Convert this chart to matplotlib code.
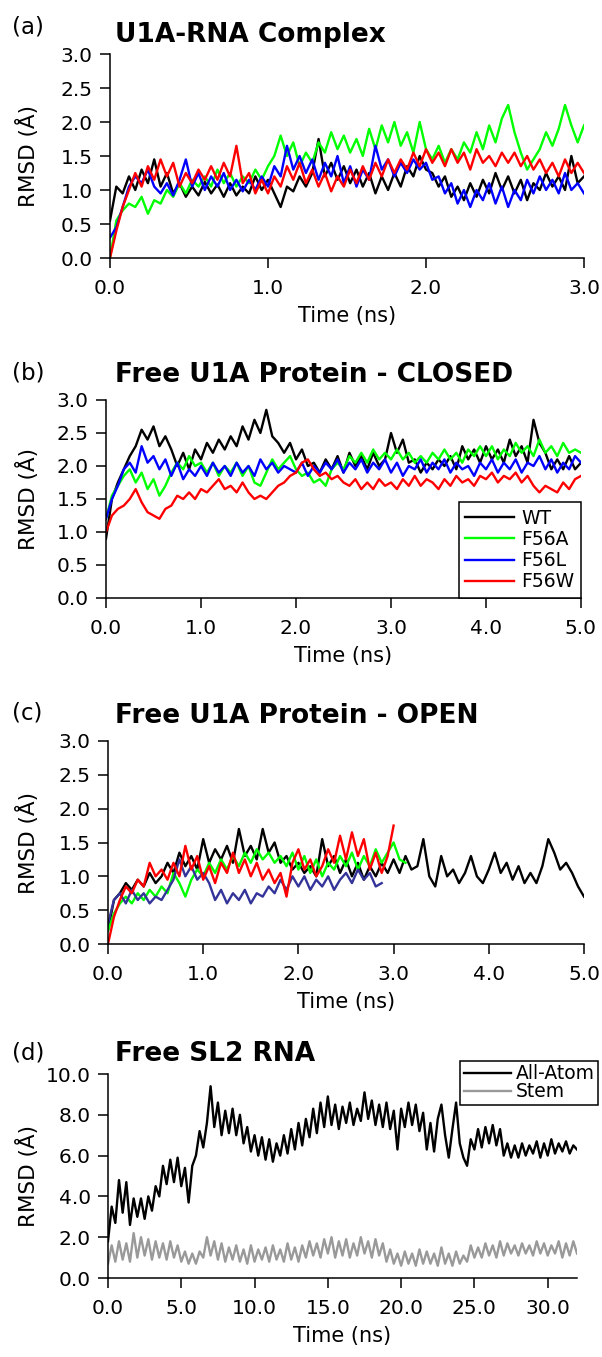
import numpy as np
import matplotlib
matplotlib.use('Agg')
import matplotlib.pyplot as plt
from matplotlib.ticker import MultipleLocator, FormatStrFormatter

plt.rcParams['font.family'] = ['DejaVu Sans']

FIG_W, FIG_H = 602, 1357

# ---- panel (a): U1A-RNA complex, 0-3 ns, sampled every 0.04 ns
A_STEP = 0.04
a_wt = [0.55, 1.05, 0.95, 1.20, 1.00, 1.30, 1.10, 1.45, 1.05, 1.25,
        0.95, 1.10, 0.90, 1.05, 0.92, 1.12, 0.95, 1.08, 0.90, 1.10,
        0.92, 1.05, 0.95, 1.20, 1.00, 1.15, 0.95, 0.75, 1.05, 0.98,
        1.20, 1.05, 1.25, 1.75, 1.20, 1.40, 1.15, 1.35, 1.10, 1.30,
        1.05, 1.25, 0.95, 1.20, 1.00, 1.25, 1.05, 1.35, 1.20, 1.50,
        1.30, 1.25, 1.05, 1.20, 0.90, 1.05, 0.85, 1.10, 0.90, 1.15,
        0.95, 1.25, 1.00, 1.20, 0.95, 1.15, 0.85, 1.10, 1.00, 1.25,
        1.05, 1.20, 1.00, 1.50, 1.10, 1.20]
a_f56a = [0.00, 0.55, 0.70, 0.80, 0.75, 0.90, 0.65, 0.85, 0.80, 1.00,
          0.90, 1.10, 0.95, 1.15, 1.05, 1.20, 1.05, 1.30, 1.10, 1.25,
          1.05, 1.20, 1.10, 1.30, 1.15, 1.35, 1.50, 1.80, 1.50, 1.70,
          1.35, 1.55, 1.40, 1.70, 1.55, 1.85, 1.60, 1.80, 1.55, 1.75,
          1.50, 1.90, 1.60, 1.95, 1.70, 2.00, 1.65, 1.85, 1.55, 2.00,
          1.60, 1.45, 1.65, 1.40, 1.60, 1.45, 1.70, 1.55, 1.85, 1.60,
          1.95, 1.70, 2.05, 2.25, 1.85, 1.55, 1.30, 1.45, 1.60, 1.85,
          1.65, 1.90, 2.25, 1.95, 1.70, 1.95]
a_f56l = [0.30, 0.45, 0.75, 1.05, 1.20, 1.10, 1.30, 1.05, 0.95, 1.10,
          0.92, 1.15, 1.45, 1.05, 1.25, 1.00, 1.20, 1.05, 1.25, 1.00,
          1.15, 0.98, 1.15, 1.00, 1.20, 1.05, 1.35, 1.20, 1.65, 1.30,
          1.50, 1.25, 1.45, 1.15, 1.40, 1.20, 1.50, 1.10, 1.35, 1.05,
          1.30, 1.15, 1.65, 1.30, 1.45, 1.20, 1.40, 1.25, 1.45, 1.30,
          1.40, 1.15, 1.20, 0.95, 1.10, 0.80, 1.00, 0.75, 1.00, 0.85,
          1.10, 0.80, 1.05, 0.75, 1.00, 0.85, 1.15, 0.95, 1.20, 1.00,
          1.15, 0.95, 1.25, 1.00, 1.10, 0.95]
a_f56w = [0.00, 0.40, 0.75, 1.00, 1.25, 1.05, 1.35, 1.15, 1.45, 1.20,
          1.40, 1.05, 1.25, 1.10, 1.30, 1.15, 1.35, 1.15, 1.40, 1.20,
          1.65, 1.10, 1.25, 0.95, 1.15, 0.95, 1.20, 1.05, 1.35, 1.15,
          1.40, 1.10, 1.30, 1.05, 1.25, 0.98, 1.20, 1.05, 1.30, 1.10,
          1.35, 1.15, 1.40, 1.20, 1.45, 1.25, 1.45, 1.30, 1.55, 1.35,
          1.60, 1.40, 1.55, 1.35, 1.60, 1.40, 1.55, 1.30, 1.60, 1.40,
          1.50, 1.35, 1.55, 1.40, 1.55, 1.35, 1.50, 1.30, 1.45, 1.25,
          1.40, 1.20, 1.45, 1.25, 1.40, 1.25]

# ---- panel (b): free U1A protein, closed, 0-5 ns every 0.0625 ns
B_STEP = 0.0625
b_wt = [0.90, 1.50, 1.75, 1.95, 2.15, 2.30, 2.55, 2.40, 2.60, 2.30, 2.45, 2.25, 2.00, 2.20, 1.95, 2.25,
        2.10, 2.35, 2.20, 2.40, 2.25, 2.45, 2.30, 2.60, 2.40, 2.70, 2.50, 2.85, 2.45, 2.35, 2.20, 2.35,
        2.10, 2.25, 2.00, 2.05, 1.90, 2.10, 1.95, 2.15, 1.90, 2.20, 2.00, 2.15, 1.95, 2.20, 2.00, 2.10,
        2.50, 2.20, 2.40, 2.05, 2.10, 1.90, 2.05, 1.95, 2.10, 2.00, 2.15, 1.95, 2.30, 2.10, 2.25, 2.05,
        2.30, 2.10, 2.25, 2.05, 2.40, 2.15, 2.30, 2.05, 2.70, 2.35, 2.20, 1.95, 2.10, 1.95, 2.15, 1.95,
        2.05]
b_f56a = [1.20, 1.55, 1.70, 1.85, 1.95, 1.75, 1.90, 1.65, 1.80, 1.55, 1.70, 1.90, 2.05, 1.95, 2.15, 2.00,
          2.05, 1.90, 2.05, 1.85, 2.00, 1.90, 2.05, 1.85, 2.00, 1.75, 1.70, 1.90, 2.10, 1.95, 2.05, 2.15,
          1.95, 1.85, 1.90, 1.75, 1.80, 1.70, 1.95, 2.05, 1.95, 2.15, 2.05, 2.20, 2.05, 2.25, 2.10, 2.20,
          2.10, 2.25, 2.10, 2.20, 2.05, 2.15, 2.05, 2.20, 2.10, 2.25, 2.10, 2.20, 2.05, 2.25, 2.15, 2.30,
          2.15, 2.30, 2.10, 2.25, 2.15, 2.35, 2.20, 2.30, 2.15, 2.40, 2.20, 2.30, 2.15, 2.35, 2.20, 2.25,
          2.20]
b_f56l = [1.20, 1.50, 1.70, 1.95, 2.05, 1.90, 2.30, 2.05, 2.15, 1.95, 2.10, 1.85, 2.05, 1.80, 1.95, 1.85,
          2.00, 1.85, 2.05, 1.90, 2.00, 1.85, 2.05, 1.90, 2.00, 1.85, 2.10, 1.95, 2.05, 1.90, 2.00, 1.95,
          1.90, 2.05, 1.85, 2.00, 1.90, 2.05, 1.95, 2.10, 1.90, 2.05, 1.95, 2.10, 1.90, 2.05, 1.95, 2.10,
          1.90, 2.05, 1.85, 2.00, 1.95, 2.10, 1.90, 2.05, 1.95, 2.10, 1.90, 2.05, 1.95, 2.00, 1.85, 2.05,
          1.95, 2.10, 1.90, 2.05, 1.95, 2.10, 1.90, 2.05, 2.00, 2.15, 1.95, 2.10, 1.90, 2.05, 1.95, 2.15,
          2.05]
b_f56w = [1.00, 1.25, 1.35, 1.40, 1.50, 1.65, 1.45, 1.30, 1.25, 1.20, 1.35, 1.40, 1.55, 1.50, 1.60, 1.50,
          1.65, 1.60, 1.70, 1.80, 1.65, 1.70, 1.60, 1.75, 1.60, 1.50, 1.55, 1.50, 1.60, 1.70, 1.75, 1.85,
          1.90, 2.05, 2.10, 1.95, 1.85, 1.90, 1.80, 1.85, 1.75, 1.70, 1.80, 1.65, 1.75, 1.65, 1.80, 1.70,
          1.75, 1.65, 1.80, 1.70, 1.85, 1.70, 1.80, 1.75, 1.65, 1.80, 1.70, 1.85, 1.75, 1.80, 1.70, 1.85,
          1.80, 1.90, 1.75, 1.85, 1.80, 1.90, 1.75, 1.85, 1.70, 1.60, 1.70, 1.65, 1.60, 1.75, 1.65, 1.80,
          1.85]

# ---- panel (c): free U1A protein, open, every 0.0625 ns
C_STEP = 0.0625
c_wt = [0.20, 0.65, 0.75, 0.90, 0.80, 0.95, 0.85, 1.05, 0.90, 1.00, 1.20, 1.05, 1.35, 1.15, 1.30, 1.10,
        1.55, 1.20, 1.40, 1.25, 1.45, 1.20, 1.70, 1.30, 1.45, 1.25, 1.70, 1.35, 1.50, 1.20, 1.30, 1.10,
        1.20, 1.05, 1.15, 1.00, 1.55, 1.15, 1.30, 1.05, 1.25, 1.00, 1.20, 0.95, 1.15, 1.00, 1.20, 1.05,
        1.25, 1.05, 1.30, 1.10, 1.15, 1.55, 1.00, 0.85, 1.30, 1.00, 1.10, 0.90, 1.05, 1.30, 1.00, 0.90,
        1.10, 1.35, 1.05, 1.20, 0.95, 1.15, 0.90, 1.05, 0.90, 1.15, 1.55, 1.35, 1.10, 1.20, 1.05, 0.85,
        0.70]
c_f56a = [0.20, 0.45, 0.60, 0.70, 0.60, 0.75, 0.65, 0.80, 0.70, 0.85, 0.75, 1.05, 0.90, 0.70, 0.95, 1.10,
          1.00, 1.20, 1.05, 1.25, 1.10, 1.30, 1.15, 1.35, 1.20, 1.40, 1.25, 1.35, 1.20, 1.30, 1.15, 1.35,
          1.10, 1.30, 1.05, 1.25, 1.00, 1.20, 1.10, 1.30, 1.15, 1.35, 1.10, 1.30, 1.15, 1.40, 1.20, 1.35,
          1.50, 1.25, 1.20]
c_f56l = [0.30, 0.65, 0.75, 0.60, 0.80, 0.65, 0.75, 0.60, 0.70, 0.65, 0.80, 0.95, 1.25, 1.00, 1.15, 0.95,
          1.05, 0.90, 0.65, 0.80, 0.60, 0.75, 0.65, 0.80, 0.60, 0.75, 0.70, 0.85, 0.75, 0.95, 0.80, 1.00,
          0.85, 1.00, 0.80, 0.95, 0.85, 1.00, 0.80, 0.95, 1.05, 0.90, 1.10, 0.95, 1.05, 0.85, 0.90]
c_f56w = [0.00, 0.40, 0.65, 0.85, 0.75, 0.95, 0.85, 1.20, 1.00, 1.10, 0.95, 1.20, 1.00, 1.45, 1.10, 1.30,
          0.95, 1.15, 0.90, 1.20, 1.05, 1.35, 1.05, 1.25, 1.00, 1.20, 0.95, 1.10, 0.90, 1.05, 0.70, 1.20,
          1.40, 1.10, 1.25, 1.00, 1.15, 1.40, 1.20, 1.60, 1.25, 1.65, 1.30, 1.55, 1.10, 1.35, 1.05, 1.30,
          1.75]

# ---- panel (d): free SL2 RNA, 0-32 ns every 0.25 ns
D_STEP = 0.25
d_all_atom = [1.8, 3.5, 2.7, 4.8, 3.2, 4.7, 2.6, 3.9,
              3.0, 3.9, 2.9, 4.0, 3.3, 4.5, 4.0, 5.5,
              4.6, 5.8, 4.7, 5.9, 4.5, 5.4, 3.7, 5.5,
              6.0, 7.2, 6.4, 7.6, 9.4, 7.4, 8.6, 7.0,
              8.2, 7.1, 8.3, 7.0, 8.0, 6.6, 7.4, 6.2,
              7.0, 6.0, 6.9, 5.8, 6.8, 5.7, 6.6, 6.0,
              7.0, 6.1, 7.3, 6.3, 7.6, 6.5, 7.8, 6.9,
              8.3, 7.1, 8.6, 7.4, 8.9, 7.5, 8.5, 7.3,
              8.4, 7.6, 8.6, 7.5, 8.3, 7.7, 9.1, 7.8,
              8.7, 7.5, 8.5, 7.4, 8.6, 7.3, 8.2, 6.3,
              8.3, 7.4, 8.6, 7.5, 8.5, 7.2, 8.1, 6.3,
              7.6, 6.2, 7.8, 8.5, 7.0, 5.9, 7.3, 8.6,
              6.6, 5.9, 5.5, 6.8, 6.3, 7.3, 6.4, 7.4,
              6.6, 7.5, 6.5, 7.3, 6.0, 6.6, 5.9, 6.5,
              5.9, 6.6, 6.0, 6.5, 6.1, 6.7, 5.9, 6.6,
              6.0, 6.8, 6.1, 6.6, 6.2, 6.7, 6.1, 6.5,
              6.3]
d_stem = [0.7, 1.6, 0.8, 1.8, 0.9, 1.7, 0.8, 2.2,
          1.0, 2.0, 1.1, 1.9, 0.9, 1.8, 1.0, 1.7,
          0.9, 1.8, 1.0, 1.6, 0.8, 1.3, 0.7, 1.2,
          0.7, 1.3, 1.0, 2.0, 1.1, 1.8, 0.9, 1.7,
          0.8, 1.5, 0.9, 1.6, 0.8, 1.4, 0.7, 1.6,
          0.8, 1.4, 0.9, 1.5, 0.8, 1.6, 0.9, 1.4,
          0.8, 1.7, 0.9, 1.5, 0.8, 1.6, 1.0, 1.8,
          1.1, 1.7, 1.0, 1.9, 1.2, 2.0, 1.0, 1.8,
          1.1, 1.9, 1.0, 1.7, 1.1, 2.0, 1.2, 1.8,
          1.0, 1.9, 1.1, 1.7, 0.8, 1.4, 0.7, 1.2,
          0.6, 1.3, 0.7, 1.2, 0.6, 1.4, 0.7, 1.3,
          0.7, 1.2, 0.6, 1.5, 0.7, 1.2, 0.6, 1.3,
          0.7, 1.1, 0.8, 1.6, 1.0, 1.5, 1.0, 1.7,
          1.1, 1.6, 1.0, 1.8, 1.1, 1.7, 1.2, 1.6,
          1.1, 1.7, 1.2, 1.6, 1.1, 1.8, 1.2, 1.7,
          1.1, 1.6, 1.2, 1.8, 1.0, 1.7, 1.1, 1.8,
          1.2]

mutant_labels = ['WT', 'F56A', 'F56L', 'F56W']
rna_labels = ['All-Atom', 'Stem']
colors = ['#000000', '#00ff00', '#0000ff', '#ff0000']
colors_open = ['#000000', '#00ff00', '#333399', '#ff0000']
rna_colors = ['#000000', '#999999']
LW = 1.7


def times(values, step):
    return np.arange(len(values)) * step


def px_box(left, right, top, bottom):
    """axes rect in figure fractions from pixel edges"""
    return [left / FIG_W, 1 - bottom / FIG_H, (right - left) / FIG_W, (bottom - top) / FIG_H]


def style_axes(ax, xmax, xstep, ymax, ystep, left_px, width_px):
    ax.spines['top'].set_visible(False)
    ax.spines['right'].set_visible(False)
    for s in ('left', 'bottom'):
        ax.spines[s].set_linewidth(1.1)
    ax.set_xlim(0, xmax)
    ax.set_ylim(0, ymax)
    ax.xaxis.set_major_locator(MultipleLocator(xstep))
    ax.yaxis.set_major_locator(MultipleLocator(ystep))
    ax.xaxis.set_major_formatter(FormatStrFormatter('%.1f'))
    ax.yaxis.set_major_formatter(FormatStrFormatter('%.1f'))
    ax.tick_params(direction='out', length=7, width=1.1, labelsize=14.5)
    ax.tick_params(axis='x', pad=8)
    ax.tick_params(axis='y', pad=5.5)
    ax.set_xlabel('Time (ns)', fontsize=15, labelpad=6)
    ax.set_ylabel('RMSD (Å)', fontsize=15.5)
    ax.yaxis.set_label_coords((39 - left_px) / width_px, 0.5)


def panel_text(fig, letter, title, letter_y, title_y):
    fig.text(12 / FIG_W, 1 - letter_y / FIG_H, letter, fontsize=16.5, va='baseline', ha='left')
    fig.text(115 / FIG_W, 1 - title_y / FIG_H, title, fontsize=19, fontweight='bold',
             va='baseline', ha='left')


fig = plt.figure(figsize=(FIG_W / 100, FIG_H / 100), dpi=100)

# (a)
ax_a = fig.add_axes(px_box(110, 584, 54, 258))
for vals, c in zip([a_wt, a_f56a, a_f56l, a_f56w], colors):
    ax_a.plot(times(vals, A_STEP), vals, color=c, lw=LW)
style_axes(ax_a, 3.0, 1.0, 3.0, 0.5, 110, 474)
panel_text(fig, '(a)', 'U1A-RNA Complex', 34, 42)

# (b)
ax_b = fig.add_axes(px_box(106, 581, 400, 598))
for vals, c, lab in zip([b_wt, b_f56a, b_f56l, b_f56w], colors, mutant_labels):
    ax_b.plot(times(vals, B_STEP), vals, color=c, lw=LW, label=lab)
style_axes(ax_b, 5.0, 1.0, 3.0, 0.5, 106, 475)
leg = ax_b.legend(loc='lower right', borderaxespad=0, fontsize=13.5, fancybox=False,
                  framealpha=1, edgecolor='black', handlelength=2.6, handletextpad=0.4,
                  labelspacing=0.12, borderpad=0.35)
leg.get_frame().set_linewidth(1.1)
panel_text(fig, '(b)', 'Free U1A Protein - CLOSED', 380, 382)

# (c)
ax_c = fig.add_axes(px_box(108, 584, 741, 944))
for vals, c in zip([c_wt, c_f56a, c_f56l, c_f56w], colors_open):
    ax_c.plot(times(vals, C_STEP), vals, color=c, lw=LW)
style_axes(ax_c, 5.0, 1.0, 3.0, 0.5, 108, 476)
panel_text(fig, '(c)', 'Free U1A Protein - OPEN', 720, 723)

# (d)
ax_d = fig.add_axes(px_box(108, 577, 1074, 1278))
for vals, c, lab in zip([d_all_atom, d_stem], rna_colors, rna_labels):
    ax_d.plot(times(vals, D_STEP), vals, color=c, lw=LW, label=lab)
style_axes(ax_d, 32.0, 5.0, 10.0, 2.0, 108, 469)
leg_d = ax_d.legend(loc='upper right', bbox_to_anchor=(490 / 469, 217 / 204),
                    borderaxespad=0, fontsize=13.5, fancybox=False, framealpha=1,
                    edgecolor='black', handlelength=2.5, handletextpad=0.27,
                    labelspacing=-0.06, borderpad=0.18)
leg_d.get_frame().set_linewidth(1.1)
panel_text(fig, '(d)', 'Free SL2 RNA', 1059, 1061)

fig.savefig('out.png', dpi=100)
